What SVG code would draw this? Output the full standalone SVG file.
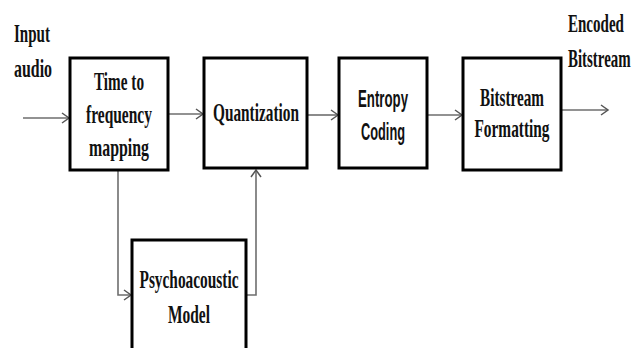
<svg xmlns="http://www.w3.org/2000/svg" width="644" height="348" viewBox="0 0 644 348">
<style>
.box{fill:#fff;stroke:#000;stroke-width:3}
.t{font-family:"Liberation Serif","Times New Roman",serif;font-weight:bold;font-size:26px;fill:#111;text-anchor:middle}
.l{font-family:"Liberation Serif","Times New Roman",serif;font-weight:bold;font-size:26px;fill:#111;text-anchor:start}
.s{font-family:"Liberation Sans",Arial,sans-serif;font-weight:bold;font-size:23px;fill:#111;text-anchor:middle}
.c{fill:none;stroke:#6e6e6e;stroke-width:1.6}
</style>
<defs>
<marker id="a" markerWidth="10" markerHeight="12" refX="8" refY="6" orient="auto" markerUnits="userSpaceOnUse">
<path d="M1,1 L8,6 L1,11" fill="none" stroke="#555" stroke-width="1.5"/>
</marker>
</defs>
<rect width="644" height="348" fill="#fff"/>
<g id="labels">
<text class="l" x="14" y="42" textLength="36" lengthAdjust="spacingAndGlyphs">Input</text>
<text class="l" x="14" y="77" textLength="38" lengthAdjust="spacingAndGlyphs">audio</text>
<text class="l" x="0" y="0" transform="translate(568,32) scale(0.578,1)">Encoded</text>
<text class="l" x="0" y="0" transform="translate(568,67) scale(0.574,1)">Bitstream</text>
</g>
<g id="connectors">
<line class="c" x1="23" y1="118" x2="69" y2="118" marker-end="url(#a)"/>
<line class="c" x1="168" y1="114" x2="203" y2="114" marker-end="url(#a)"/>
<line class="c" x1="307" y1="115" x2="338" y2="115" marker-end="url(#a)"/>
<line class="c" x1="427" y1="115" x2="462" y2="115" marker-end="url(#a)"/>
<line class="c" x1="561" y1="110" x2="608" y2="110" marker-end="url(#a)"/>
<polyline class="c" points="118,170 118,295 131,295" marker-end="url(#a)"/>
<polyline class="c" points="246,295 256,295 256,170" marker-end="url(#a)"/>
</g>
<g id="time-to-frequency">
<rect class="box" x="70" y="58" width="98" height="112"/>
<text class="t" x="119" y="90" textLength="50" lengthAdjust="spacingAndGlyphs">Time to</text>
<text class="t" x="119" y="123" textLength="66" lengthAdjust="spacingAndGlyphs">frequency</text>
<text class="t" x="119" y="156" textLength="60" lengthAdjust="spacingAndGlyphs">mapping</text>
</g>
<g id="quantization">
<rect class="box" x="204" y="58" width="103" height="110"/>
<text class="t" x="256" y="121" textLength="86" lengthAdjust="spacingAndGlyphs">Quantization</text>
</g>
<g id="entropy-coding">
<rect class="box" x="339" y="58" width="88" height="110"/>
<text class="s" x="383" y="107" textLength="50" lengthAdjust="spacingAndGlyphs">Entropy</text>
<text class="s" x="383" y="140" textLength="44" lengthAdjust="spacingAndGlyphs">Coding</text>
</g>
<g id="bitstream-formatting">
<rect class="box" x="463" y="58" width="98" height="112"/>
<text class="t" x="512" y="106" textLength="64" lengthAdjust="spacingAndGlyphs">Bitstream</text>
<text class="t" x="512" y="137" textLength="75" lengthAdjust="spacingAndGlyphs">Formatting</text>
</g>
<g id="psychoacoustic-model">
<rect class="box" x="132" y="240" width="114" height="120"/>
<text class="t" x="189" y="288" textLength="99" lengthAdjust="spacingAndGlyphs">Psychoacoustic</text>
<text class="t" x="189" y="323" textLength="42" lengthAdjust="spacingAndGlyphs">Model</text>
</g>
</svg>
